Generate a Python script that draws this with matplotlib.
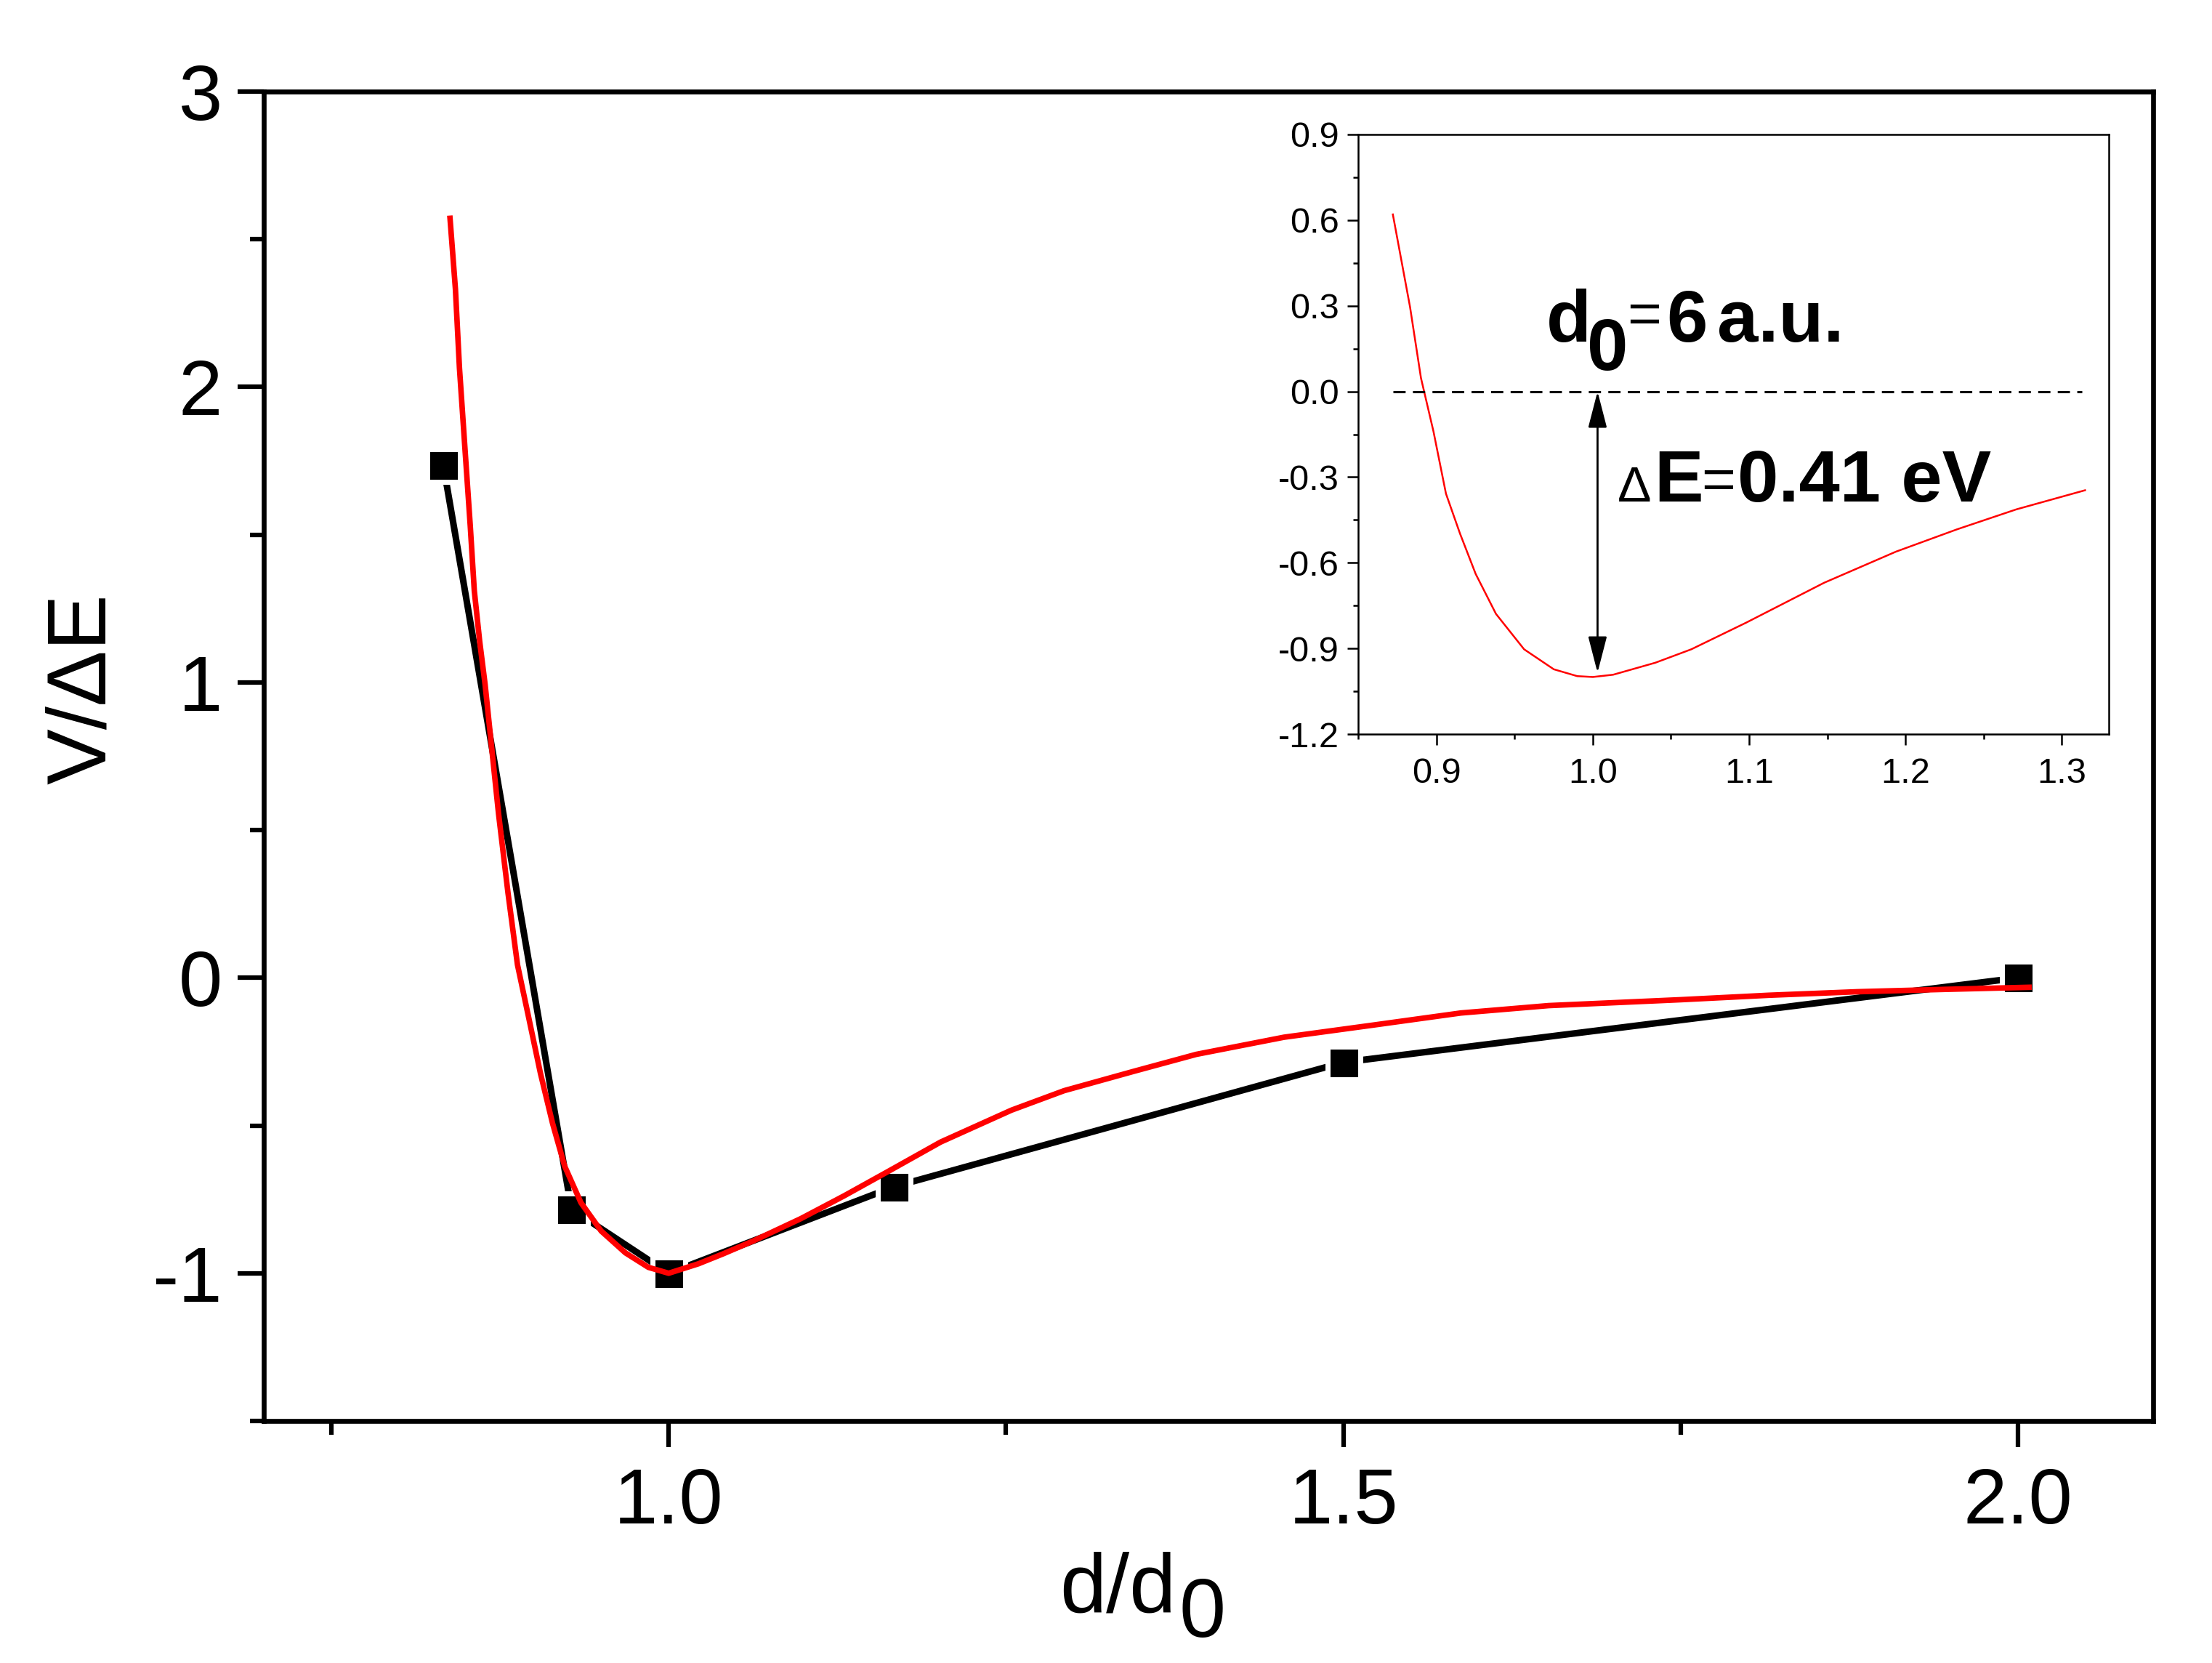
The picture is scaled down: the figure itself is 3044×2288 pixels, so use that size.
import matplotlib
matplotlib.use("Agg")
import matplotlib.pyplot as plt
from matplotlib.ticker import MultipleLocator, FormatStrFormatter

plt.rcParams['font.family'] = ['Liberation Sans', 'DejaVu Sans']
plt.rcParams['axes.unicode_minus'] = False

# ---- data ----
calc_x = [0.833, 0.928, 1.000, 1.167, 1.500, 2.000]
calc_y = [1.736, -0.783, -1.000, -0.707, -0.286, 0.000]

fit_x = [0.838, 0.842, 0.845, 0.849, 0.853, 0.856, 0.860, 0.864, 0.869, 0.874,
         0.881, 0.888, 0.896, 0.905, 0.914, 0.923, 0.935, 0.950, 0.968, 0.985,
         1.000, 1.022, 1.040, 1.063, 1.098, 1.130, 1.162, 1.2015, 1.254, 1.293,
         1.345, 1.391, 1.456, 1.522, 1.587, 1.652, 1.750, 1.815, 1.881, 1.946, 2.008]
fit_y = [2.571, 2.332, 2.064, 1.796, 1.530, 1.310, 1.138, 0.993, 0.773, 0.554,
         0.286, 0.044, -0.128, -0.323, -0.493, -0.638, -0.761, -0.857, -0.931, -0.980,
         -1.000, -0.968, -0.935, -0.890, -0.815, -0.738, -0.657, -0.556, -0.448, -0.382,
         -0.316, -0.259, -0.201, -0.160, -0.119, -0.094, -0.074, -0.059, -0.047, -0.039, -0.032]

inset_x = [0.872, 0.883, 0.890, 0.898, 0.906, 0.915, 0.925, 0.938, 0.956, 0.975,
           0.990, 1.000, 1.013, 1.040, 1.063, 1.098, 1.148, 1.194, 1.233, 1.271, 1.315]
inset_y = [0.620, 0.296, 0.047, -0.140, -0.358, -0.498, -0.639, -0.779, -0.903, -0.973,
           -0.997, -1.000, -0.992, -0.950, -0.903, -0.810, -0.670, -0.561, -0.483, -0.413, -0.346]

dash_x = [0.872, 1.313]
dash_level = 0.0
arrow_x = 1.003
arrow_top = 0.0
arrow_bottom = -0.985

main_xlim = (0.7, 2.1)
main_ylim = (-1.5, 3.0)
inset_xlim = (0.8498, 1.3302)
inset_ylim = (-1.2, 0.9)

# ---- figure ----
W, H = 3044, 2288
fig = plt.figure(figsize=(W / 100, H / 100), dpi=100)

ax = fig.add_axes([363 / W, 1 - 1955 / H, (2963 - 363) / W, (1955 - 126) / H])
ax.plot(calc_x, calc_y, '-s', color='black', lw=6.5, ms=32.4, mfc='black',
        mec='white', mew=5, zorder=2)
ax.plot(fit_x, fit_y, '-', color='#ff0000', lw=5.5, zorder=3)

ax.set_xlim(*main_xlim)
ax.set_ylim(*main_ylim)
ax.xaxis.set_major_locator(MultipleLocator(0.5))
ax.xaxis.set_minor_locator(MultipleLocator(0.25))
ax.yaxis.set_major_locator(MultipleLocator(1))
ax.yaxis.set_minor_locator(MultipleLocator(0.5))
ax.xaxis.set_major_formatter(FormatStrFormatter('%.1f'))
ax.yaxis.set_major_formatter(FormatStrFormatter('%d'))
for s in ax.spines.values():
    s.set_linewidth(4.8)
ax.tick_params(which='both', direction='out', top=False, right=False, width=4.5)
ax.tick_params(which='major', length=26, labelsize=78)
ax.tick_params(which='minor', length=14)
ax.tick_params(axis='x', which='major', pad=19.5)
ax.tick_params(axis='y', which='major', pad=15)

ax.set_ylabel('V/\u0394E', fontsize=83)
ax.yaxis.set_label_coords(-0.0746, 0.5506)
xl = ax.set_xlabel('d/d', fontsize=83)
ax.xaxis.set_label_coords(0.4521, -0.0984)
ax.annotate('0', xy=(1, 0), xycoords=xl, xytext=(3, -7), textcoords='offset points',
            ha='left', va='baseline', fontsize=83)

# ---- inset ----
axi = fig.add_axes([1869 / W, 1 - 1010 / H, (2902 - 1869) / W, (1010 - 185) / H])
axi.set_facecolor('white')
axi.plot(inset_x, inset_y, '-', color='#ff0000', lw=1.8)
axi.plot(dash_x, [dash_level, dash_level], color='black', lw=2.2, ls=(0, (5.5, 3.3)))
axi.annotate('', xy=(arrow_x, arrow_bottom), xytext=(arrow_x, arrow_top),
             arrowprops=dict(arrowstyle='<|-|>,head_length=1.55,head_width=0.4',
                             mutation_scale=20, lw=2, color='black',
                             shrinkA=0, shrinkB=0))
axi.set_xlim(*inset_xlim)
axi.set_ylim(*inset_ylim)
axi.xaxis.set_major_locator(MultipleLocator(0.1))
axi.xaxis.set_minor_locator(MultipleLocator(0.05))
axi.yaxis.set_major_locator(MultipleLocator(0.3))
axi.yaxis.set_minor_locator(MultipleLocator(0.15))
axi.xaxis.set_major_formatter(FormatStrFormatter('%.1f'))
axi.yaxis.set_major_formatter(FormatStrFormatter('%.1f'))
for s in axi.spines.values():
    s.set_linewidth(1.8)
axi.tick_params(which='both', direction='out', top=False, right=False, width=1.8)
axi.tick_params(which='major', length=11, labelsize=35)
axi.tick_params(which='minor', length=5)
axi.tick_params(axis='x', which='major', pad=12)
axi.tick_params(axis='y', which='major', pad=8)

# annotation texts in the inset
bold = dict(fontsize=73, fontweight='bold', ha='left', va='baseline')
axi.text(0.9702, 0.175, 'd', **bold)
axi.text(0.9963, 0.0763, '0', **bold)
axi.text(1.0328, 0.202, '=', fontsize=58, ha='center', va='baseline')
axi.text(1.0470, 0.175, '6', **bold)
axi.text(1.0795, 0.175, 'a.u.', **bold)

axi.text(1.0158, -0.3865, '\u0394', fontsize=50, ha='left', va='baseline')
axi.text(1.0391, -0.3865, 'E', **bold)
axi.text(1.0802, -0.3776, '=', fontsize=58, ha='center', va='baseline')
axi.text(1.0926, -0.3865, '0.41 eV', **bold)

fig.savefig('out.png', dpi=100)
